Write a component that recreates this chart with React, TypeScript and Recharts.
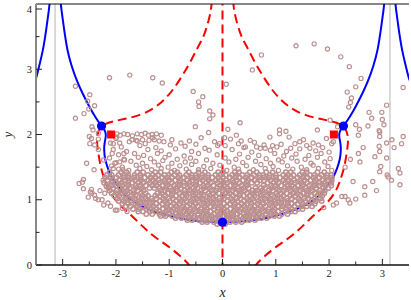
import { ComposedChart, Scatter, Line, XAxis, YAxis, ReferenceLine } from "recharts";

type P = [number, number];

const xTicks = [-3, -2.5, -2, -1.5, -1, -0.5, 0, 0.5, 1, 1.5, 2, 2.5, 3];
const yTicks = [0, 0.5, 1, 1.5, 2, 2.5, 3, 3.5, 4];
const guideX = [-3.1416, 3.1416];

// solid blue curve, inner branch through the three dots
const blueInner: P[] = [
  [-3.04, 4.05], [-3.02, 3.9], [-2.97, 3.6], [-2.91, 3.3], [-2.83, 3.05], [-2.73, 2.82], [-2.62, 2.62],
  [-2.5, 2.43], [-2.38, 2.26], [-2.27, 2.13], [-2.21, 2.06], [-2.19, 1.98], [-2.21, 1.88], [-2.22, 1.76],
  [-2.2, 1.62], [-2.15, 1.48], [-2.08, 1.35], [-2.0, 1.25], [-1.88, 1.12], [-1.75, 1.02], [-1.58, 0.93],
  [-1.4, 0.86], [-1.2, 0.8], [-0.9, 0.735], [-0.6, 0.69], [-0.3, 0.665], [0, 0.655],
  [0.3, 0.665], [0.6, 0.69], [0.9, 0.735], [1.2, 0.8], [1.4, 0.86], [1.58, 0.93], [1.75, 1.02],
  [1.88, 1.12], [2.0, 1.25], [2.08, 1.35], [2.15, 1.48], [2.2, 1.62], [2.22, 1.76], [2.21, 1.88],
  [2.19, 1.98], [2.21, 2.06], [2.27, 2.13], [2.38, 2.26], [2.5, 2.43], [2.62, 2.62], [2.73, 2.82],
  [2.83, 3.05], [2.91, 3.3], [2.97, 3.6], [3.02, 3.9], [3.04, 4.05],
];
const blueOuterL: P[] = [[-3.56, 2.75], [-3.5, 2.86], [-3.44, 3.05], [-3.37, 3.3], [-3.31, 3.6], [-3.26, 3.9], [-3.24, 4.05]];
const blueOuterR: P[] = [[3.56, 2.75], [3.5, 2.86], [3.44, 3.05], [3.37, 3.3], [3.31, 3.6], [3.26, 3.9], [3.24, 4.05]];

// dashed red curves
const redRight: P[] = [
  [0.2, 4.05], [0.22, 3.9], [0.27, 3.72], [0.35, 3.52], [0.46, 3.34], [0.6, 3.12], [0.75, 2.91], [0.92, 2.7],
  [1.1, 2.53], [1.3, 2.4], [1.55, 2.3], [1.83, 2.24], [2.05, 2.2], [2.2, 2.16], [2.3, 2.09], [2.35, 1.98],
  [2.35, 1.84], [2.32, 1.66], [2.27, 1.46], [2.2, 1.28], [2.12, 1.13], [1.97, 0.96], [1.78, 0.81], [1.56, 0.64],
  [1.36, 0.49], [1.15, 0.36], [0.96, 0.25], [0.8, 0.14], [0.68, 0.05], [0.6, -0.03],
];
const redLeft: P[] = [
  [-0.2, 4.05], [-0.22, 3.9], [-0.27, 3.72], [-0.35, 3.52], [-0.46, 3.34], [-0.6, 3.12], [-0.75, 2.91], [-0.92, 2.7],
  [-1.1, 2.53], [-1.3, 2.4], [-1.55, 2.3], [-1.83, 2.24], [-2.05, 2.2], [-2.2, 2.16], [-2.3, 2.09], [-2.35, 1.98],
  [-2.35, 1.84], [-2.32, 1.66], [-2.27, 1.46], [-2.2, 1.28], [-2.12, 1.13], [-1.97, 0.96], [-1.78, 0.81], [-1.56, 0.64],
  [-1.36, 0.49], [-1.15, 0.36], [-0.96, 0.25], [-0.8, 0.14], [-0.68, 0.05], [-0.6, -0.03],
];
const redMid: P[] = [[0, -0.1], [0, 4.1]];

const blueDots: P[] = [[-2.27, 2.13], [2.27, 2.13], [0, 0.655]];
const redSquares: P[] = [[-2.09, 2.0], [2.09, 2.0]];

// sample cloud: scattered points outside the dense core
const outerPts: P[] = [
  [-2.12, 2.87], [-1.74, 2.91], [-2.76, 2.74], [-2.49, 2.61], [-2.53, 2.51], [-2.4, 2.44], [-2.6, 2.32],
  [-2.76, 2.25], [-2.51, 2.39], [-2.45, 2.12], [-2.43, 2.07], [-2.33, 2.02], [-2.46, 1.94], [-2.49, 1.86],
  [-2.5, 1.97], [-2.33, 1.93], [-2.05, 1.86], [-1.99, 1.96], [-1.93, 1.87], [-2.07, 1.71], [-1.85, 1.71],
  [-2.02, 1.56], [-1.93, 1.58], [-2.05, 1.48], [-1.87, 1.46], [-1.84, 1.61], [-2.4, 1.84], [-2.33, 1.77],
  [-2.55, 1.56], [-2.41, 1.46], [-2.61, 1.31], [-2.69, 1.25], [-2.61, 1.17], [-2.46, 1.16], [-2.4, 1.07],
  [-2.33, 1.0], [-2.21, 1.1], [-2.15, 0.95], [-2.63, 1.27], [-2.45, 1.1], [-2.38, 1.02], [-2.26, 1.0],
  [-2.23, 0.92], [-2.24, 1.3], [-2.18, 1.2], [-2.23, 1.61], [-2.48, 1.12], [-2.01, 0.84], [-1.98, 0.84],
  [-1.88, 0.87], [-1.79, 0.82], [-2.1, 0.9], [-2.3, 1.14], [-2.52, 1.04],
  [-1.31, 2.87], [-1.13, 2.79], [-0.55, 2.66], [-0.37, 2.58], [-0.45, 2.5], [-0.44, 2.43], [-0.24, 2.36],
  [-0.18, 2.3], [-0.24, 2.24], [-0.51, 2.12], [-0.26, 2.03], [0.07, 2.77], [0.56, 2.99], [0.73, 3.22],
  [0.1, 2.08], [0.33, 2.18], [0.26, 1.99], [0.35, 1.9], [0.43, 1.81], [0.89, 1.96], [1.07, 2.01],
  [0.71, 1.79], [0.94, 1.83], [-0.09, 1.83], [-0.06, 1.86], [0.04, 1.95], [1.07, 2.07], [1.19, 2.05],
  [0.64, 1.81], [0.8, 1.79], [1.78, 2.07], [1.8, 1.84], [1.64, 1.79], [1.36, 1.86],
  [1.38, 3.36], [1.72, 3.39], [1.97, 3.31], [2.22, 3.19], [2.38, 3.04], [2.6, 2.86], [2.5, 2.73],
  [2.34, 2.65], [2.42, 2.56], [2.4, 2.49], [2.37, 2.42], [3.08, 2.45], [2.75, 2.34], [2.99, 2.34],
  [2.8, 2.25], [3.0, 2.23], [3.03, 2.15], [2.5, 2.15], [2.73, 2.13], [2.57, 2.08], [2.55, 1.99],
  [2.94, 2.06], [2.95, 1.97], [3.08, 1.87], [3.18, 1.92], [3.22, 1.8], [3.39, 1.97], [3.39, 2.72],
  [2.94, 1.82], [2.64, 1.8], [2.16, 2.12], [2.02, 2.22], [2.08, 1.89], [2.95, 2.04], [3.36, 1.86],
  [2.95, 1.74], [2.55, 1.71], [2.58, 1.58], [2.86, 1.66], [3.08, 1.64], [2.97, 1.51], [2.95, 1.43],
  [3.3, 1.48], [3.33, 1.41], [3.11, 1.35], [3.17, 1.3], [3.33, 1.23], [2.82, 1.28], [2.67, 1.2],
  [2.89, 1.14], [2.45, 1.28], [2.3, 1.05], [2.5, 1.01], [2.36, 1.0], [2.24, 1.05], [2.14, 0.95],
  [2.08, 0.92], [3.09, 1.38], [2.67, 1.07], [2.39, 0.95], [2.3, 1.5], [2.4, 1.62], [1.9, 0.88],
];

// moderately filled band above the core
const midPts: P[] = [
  [-2.07, 2.0], [-1.98, 2.01], [-1.92, 1.99], [-1.85, 2.01], [-1.78, 2.0], [-1.69, 1.98], [-1.6, 2.01],
  [-1.52, 2.0], [-1.45, 2.02], [-1.39, 1.99], [-1.32, 2.0], [-1.24, 2.01], [-1.15, 1.99],
  [-1.7, 1.92], [-1.6, 1.9], [-1.5, 1.92], [-1.38, 1.91], [-1.28, 1.92], [-1.19, 1.9],
  [-2.0, 1.94], [-1.62, 1.91], [-1.31, 1.95], [-0.95, 1.92], [-0.62, 1.9], [-0.4, 1.95], [0.15, 1.93],
  [0.52, 1.91], [1.25, 1.96], [1.52, 1.92], [1.95, 1.94],
  [-2.1, 1.87], [-1.75, 1.89], [-1.45, 1.86], [-1.1, 1.89], [-0.78, 1.87], [-0.5, 1.85], [-0.15, 1.89],
  [0.3, 1.86], [0.6, 1.88], [1.1, 1.85], [1.45, 1.89], [1.7, 1.87], [2.05, 1.86],
  [-1.9, 1.81], [-1.55, 1.83], [-1.25, 1.8], [-0.98, 1.84], [-0.7, 1.82], [-0.33, 1.79], [0.05, 1.83],
  [0.4, 1.8], [0.78, 1.84], [1.02, 1.81], [1.28, 1.79], [1.58, 1.83], [1.88, 1.8],
  [-2.05, 1.77], [-1.8, 1.74], [-1.4, 1.77], [-1.15, 1.75], [-0.88, 1.78], [-0.58, 1.74], [-0.25, 1.76],
  [0.18, 1.77], [0.55, 1.73], [0.9, 1.76], [1.2, 1.74], [1.45, 1.78], [1.75, 1.75], [2.0, 1.73],
  [-1.95, 1.69], [-1.65, 1.71], [-1.48, 1.68], [-1.22, 1.71], [-1.0, 1.69], [-0.72, 1.67], [-0.45, 1.71],
  [-0.1, 1.69], [0.32, 1.7], [0.68, 1.68], [0.98, 1.71], [1.15, 1.67], [1.38, 1.7], [1.62, 1.68], [1.85, 1.71],
  [-2.12, 1.64], [-1.85, 1.62], [-1.58, 1.65], [-1.35, 1.63], [-1.08, 1.65], [-0.85, 1.62], [-0.6, 1.64],
  [-0.3, 1.61], [0.05, 1.64], [0.25, 1.62], [0.48, 1.65], [0.82, 1.63], [1.05, 1.61], [1.3, 1.64],
  [1.55, 1.62], [1.78, 1.65], [2.02, 1.63],
  [-2.0, 1.57], [-1.72, 1.59], [-1.5, 1.56], [-1.28, 1.58], [-1.12, 1.6], [-0.95, 1.56], [-0.7, 1.58],
  [-0.5, 1.59], [-0.18, 1.56], [0.12, 1.58], [0.38, 1.57], [0.62, 1.59], [0.9, 1.56], [1.12, 1.58],
  [1.4, 1.59], [1.66, 1.56], [1.92, 1.58],
  [-2.08, 1.52], [-1.88, 1.5], [-1.62, 1.53], [-1.42, 1.51], [-1.2, 1.53], [-1.02, 1.5], [-0.8, 1.52],
  [-0.58, 1.54], [-0.35, 1.51], [-0.05, 1.53], [0.22, 1.5], [0.45, 1.52], [0.72, 1.54], [0.95, 1.51],
  [1.22, 1.52], [1.48, 1.5], [1.7, 1.53], [1.98, 1.51],
  [-1.95, 1.47], [-1.76, 1.45], [-1.55, 1.48], [-1.33, 1.46], [-1.15, 1.48], [-0.9, 1.45], [-0.68, 1.47],
  [-0.45, 1.46], [-0.22, 1.48], [0.08, 1.45], [0.3, 1.47], [0.58, 1.46], [0.8, 1.48], [1.05, 1.45],
  [1.32, 1.47], [1.58, 1.46], [1.8, 1.48], [2.05, 1.45],
];

// dense core, row by row: [y, x values]
const coreRows: [number, number[]][] = [
  [1.42, [-2.12, -1.9, -1.8, -1.6, -1.49, -1.26, -1.16, -0.96, -0.85, -0.63, -0.45, -0.33, -0.08, 0.01, 0.23, 0.31, 0.51, 0.64, 0.82, 0.94, 1.19, 1.28, 1.5, 1.58, 1.78, 1.91]],
  [1.38, [-2.17, -2.08, -1.95, -1.85, -1.77, -1.65, -1.54, -1.4, -1.31, -1.21, -1.09, -1.01, -0.9, -0.81, -0.68, -0.58, -0.5, -0.38, -0.27, -0.13, -0.04, 0.06, 0.18, 0.26, 0.37, 0.46, 0.59, 0.69, 0.77, 0.89, 1.0, 1.14, 1.23, 1.33, 1.45, 1.53, 1.64, 1.73, 1.86, 1.96, 2.04]],
  [1.34, [-2.2, -2.1, -1.99, -1.85, -1.76, -1.66, -1.54, -1.46, -1.35, -1.26, -1.13, -1.03, -0.95, -0.83, -0.72, -0.58, -0.49, -0.39, -0.27, -0.19, -0.08, 0.01, 0.14, 0.24, 0.32, 0.44, 0.55, 0.69, 0.78, 0.88, 1.0, 1.08, 1.19, 1.28, 1.41, 1.51, 1.59, 1.71, 1.82, 1.96, 2.05]],
  [1.3, [-2.16, -2.07, -1.94, -1.84, -1.76, -1.64, -1.53, -1.39, -1.3, -1.2, -1.08, -1.0, -0.89, -0.8, -0.67, -0.57, -0.49, -0.37, -0.26, -0.12, -0.03, 0.07, 0.19, 0.27, 0.38, 0.47, 0.6, 0.7, 0.78, 0.9, 1.01, 1.15, 1.24, 1.34, 1.46, 1.54, 1.65, 1.74, 1.87, 1.97, 2.05]],
  [1.26, [-2.22, -2.08, -1.99, -1.89, -1.77, -1.69, -1.58, -1.49, -1.36, -1.26, -1.18, -1.06, -0.95, -0.81, -0.72, -0.62, -0.5, -0.42, -0.31, -0.22, -0.09, 0.01, 0.09, 0.21, 0.32, 0.46, 0.55, 0.65, 0.85, 0.96, 1.05, 1.18, 1.28, 1.36, 1.48, 1.59, 1.73, 1.82, 1.92, 2.04]],
  [1.22, [-2.18, -2.08, -2.0, -1.88, -1.77, -1.63, -1.54, -1.44, -1.32, -1.24, -1.13, -1.04, -0.91, -0.81, -0.73, -0.61, -0.5, -0.36, -0.27, -0.17, -0.05, 0.03, 0.14, 0.23, 0.36, 0.46, 0.77, 0.91, 1.0, 1.1, 1.22, 1.3, 1.41, 1.5, 1.63, 1.73, 1.81, 1.93, 2.04]],
  [1.18, [-2.14, -2.05, -1.92, -1.82, -1.74, -1.62, -1.51, -1.37, -1.28, -1.18, -1.06, -0.98, -0.87, -0.78, -0.65, -0.55, -0.47, -0.35, -0.24, -0.1, -0.01, 0.09, 0.21, 0.29, 0.4, 0.49, 0.62, 0.72, 0.8, 0.92, 1.03, 1.17, 1.26, 1.36, 1.48, 1.56, 1.67, 1.76, 1.89, 1.99]],
  [1.14, [-2.12, -1.98, -1.89, -1.79, -1.67, -1.59, -1.48, -1.16, -1.08, -0.96, -0.85, -0.71, -0.62, -0.52, -0.4, -0.32, -0.21, -0.12, 0.01, 0.11, 0.19, 0.31, 0.42, 0.56, 0.65, 0.75, 0.87, 0.95, 1.06, 1.15, 1.28, 1.38, 1.46, 1.58, 1.69, 1.83, 1.92]],
  [1.1, [-2.08, -1.98, -1.9, -1.78, -1.67, -1.53, -1.44, -1.22, -1.14, -1.03, -0.94, -0.81, -0.71, -0.63, -0.51, -0.4, -0.26, -0.17, -0.07, 0.05, 0.13, 0.24, 0.33, 0.46, 0.56, 0.64, 0.76, 0.87, 1.01, 1.1, 1.2, 1.32, 1.4, 1.51, 1.6, 1.73, 1.83, 1.91]],
  [1.06, [-2.03, -1.94, -1.81, -1.71, -1.63, -1.51, -1.4, -1.26, -1.17, -1.07, -0.95, -0.87, -0.76, -0.67, -0.54, -0.44, -0.36, -0.24, -0.13, 0.01, 0.1, 0.2, 0.32, 0.4, 0.51, 0.6, 0.73, 0.83, 0.91, 1.03, 1.14, 1.28, 1.37, 1.47, 1.59, 1.67, 1.78, 1.87]],
  [1.02, [-1.97, -1.83, -1.74, -1.64, -1.52, -1.44, -1.33, -1.24, -1.11, -1.01, -0.93, -0.81, -0.7, -0.56, -0.47, -0.37, -0.25, -0.17, -0.06, 0.03, 0.16, 0.26, 0.34, 0.46, 0.57, 0.71, 0.8, 0.9, 1.02, 1.1, 1.21, 1.3, 1.43, 1.53, 1.61, 1.73, 1.84]],
  [0.98, [-1.95, -1.86, -1.73, -1.63, -1.55, -1.43, -1.32, -1.18, -1.09, -0.99, -0.87, -0.79, -0.68, -0.59, -0.46, -0.36, -0.28, -0.16, -0.05, 0.09, 0.18, 0.28, 0.4, 0.48, 0.59, 0.68, 0.81, 0.91, 0.99, 1.11, 1.22, 1.36, 1.45, 1.55, 1.67, 1.75, 1.86]],
  [0.94, [-1.88, -1.77, -1.63, -1.54, -1.44, -1.32, -1.24, -1.13, -1.04, -0.91, -0.81, -0.73, -0.61, -0.5, -0.36, -0.27, -0.17, -0.05, 0.03, 0.14, 0.23, 0.36, 0.46, 0.54, 0.66, 0.77, 0.91, 1.0, 1.1, 1.22, 1.3, 1.41, 1.5, 1.63, 1.73]],
  [0.9, [-1.82, -1.73, -1.6, -1.5, -1.42, -1.3, -1.19, -1.05, -0.96, -0.86, -0.74, -0.66, -0.55, -0.46, -0.33, -0.23, -0.15, -0.03, 0.08, 0.22, 0.31, 0.41, 0.53, 0.61, 0.72, 0.81, 0.94, 1.04, 1.12, 1.24, 1.35, 1.49, 1.58, 1.68]],
  [0.86, [-1.68, -1.57, -1.43, -1.34, -1.24, -1.12, -1.04, -0.93, -0.84, -0.71, -0.61, -0.53, -0.41, -0.3, -0.16, -0.07, 0.03, 0.15, 0.23, 0.34, 0.43, 0.56, 0.66, 0.74, 0.86, 0.97, 1.11, 1.2, 1.3, 1.42, 1.5]],
  [0.82, [-1.58, -1.49, -1.36, -1.26, -1.18, -1.06, -0.95, -0.81, -0.72, -0.62, -0.5, -0.42, -0.31, -0.22, -0.09, 0.01, 0.09, 0.21, 0.32, 0.46, 0.55, 0.65, 0.77, 0.85, 0.96, 1.05, 1.18, 1.28, 1.36]],
  [0.78, [-1.43, -1.32, -1.18, -1.09, -0.99, -0.87, -0.79, -0.68, -0.59, -0.46, -0.36, -0.28, -0.16, -0.05, 0.09, 0.18, 0.28, 0.4, 0.48, 0.59, 0.68, 0.81, 0.91, 0.99, 1.11, 1.22]],
  [0.75, [-1.16, -1.07, -0.94, -0.84, -0.76, -0.64, -0.53, -0.39, -0.3, -0.2, -0.08, 0.0, 0.11, 0.2, 0.33, 0.43, 0.51, 0.63, 0.74, 0.88, 0.97, 1.07]],
  [0.72, [-0.88, -0.77, -0.63, -0.54, -0.44, -0.32, -0.24, -0.13, -0.04, 0.09, 0.19, 0.27, 0.39, 0.5, 0.64, 0.73, 0.83]],
  [0.69, [-0.66, -0.57, -0.44, -0.34, -0.26, -0.14, -0.03, 0.11, 0.2, 0.3, 0.42, 0.5, 0.61]],
  [0.66, [-0.38, -0.29, -0.16, -0.06, 0.02, 0.14, 0.25, 0.36]],
  [0.63, [-0.1, 0.05]],
];

const toXY = (pts: P[]) => pts.map(([x, y]) => ({ x, y }));

const core = coreRows.flatMap(([y, xs]) => xs.map((x) => ({ x, y })));
const loose = [...toXY(midPts), ...toXY(outerPts)];

const SERIF = "'Liberation Serif', 'Times New Roman', serif";
const INK = "#222";
const ROSY = "#bc8f8f";

const Ring = (p: any) => <circle cx={p.cx} cy={p.cy} r={2.1} fill="none" stroke={ROSY} strokeWidth={1.15} />;
const CoreRing = (p: any) => <circle cx={p.cx} cy={p.cy} r={2.25} fill="none" stroke={ROSY} strokeWidth={1.5} />;
const Dot = (p: any) => <circle cx={p.cx} cy={p.cy} r={4.6} fill="#0000ff" />;
const Sq = (p: any) => <rect x={p.cx - 4} y={p.cy - 4} width={8} height={8} fill="#ff0000" />;

const tickLen = (v: number) => (Number.isInteger(v) ? 6 : 3.5);

const BottomTick = ({ x, y, payload }: any) => (
  <g>
    <line x1={x} x2={x} y1={y} y2={y - tickLen(payload.value)} stroke={INK} />
    {Number.isInteger(payload.value) && (
      <text x={x} y={y + 12} textAnchor="middle" fontSize={10.5} fontFamily={SERIF} fill={INK}>
        {payload.value}
      </text>
    )}
  </g>
);
const TopTick = ({ x, y, payload }: any) => (
  <line x1={x} x2={x} y1={y} y2={y + tickLen(payload.value)} stroke={INK} />
);
const LeftTick = ({ x, y, payload }: any) => (
  <g>
    <line x1={x} x2={x + tickLen(payload.value)} y1={y} y2={y} stroke={INK} />
    {Number.isInteger(payload.value) && (
      <text x={x - 4} y={y + 3.5} textAnchor="end" fontSize={10.5} fontFamily={SERIF} fill={INK}>
        {payload.value}
      </text>
    )}
  </g>
);
const RightTick = ({ x, y, payload }: any) => (
  <line x1={x} x2={x - tickLen(payload.value)} y1={y} y2={y} stroke={INK} />
);

export default function App() {
  return (
    <div style={{ position: "absolute", left: 0, top: 0, width: 411, height: 300, background: "#fff" }}>
      <ComposedChart width={411} height={300} margin={{ top: 3, right: 2, bottom: 0, left: 0 }}>
        <XAxis
          dataKey="x"
          type="number"
          domain={[-3.5, 3.5]}
          ticks={xTicks}
          allowDataOverflow
          height={35}
          tickSize={0}
          tickMargin={0}
          tick={<BottomTick />}
          axisLine={{ stroke: "#111", strokeWidth: 1.5 }}
          label={{
            content: () => (
              <text x={222.5} y={297} textAnchor="middle" fontSize={14} fontStyle="italic" fontFamily={SERIF} fill={INK}>
                x
              </text>
            ),
          }}
        />
        <XAxis
          xAxisId="top"
          orientation="top"
          type="number"
          domain={[-3.5, 3.5]}
          ticks={xTicks}
          height={1}
          tickSize={0}
          tickMargin={0}
          tick={<TopTick />}
          axisLine={{ stroke: "#111", strokeWidth: 1.2 }}
        />
        <YAxis
          dataKey="y"
          type="number"
          domain={[0, 4]}
          ticks={yTicks}
          allowDataOverflow
          width={36}
          tickSize={0}
          tickMargin={0}
          tick={<LeftTick />}
          axisLine={{ stroke: "#888", strokeWidth: 2 }}
          label={{
            content: () => (
              <text x={12} y={134.5} transform="rotate(-90, 12, 134.5)" textAnchor="middle" fontSize={13} fontStyle="italic" fontFamily={SERIF} fill={INK}>
                y
              </text>
            ),
          }}
        />
        <YAxis
          yAxisId="right"
          orientation="right"
          type="number"
          domain={[0, 4]}
          ticks={yTicks}
          width={0}
          tickSize={0}
          tickMargin={0}
          tick={<RightTick />}
          axisLine={{ stroke: "#111", strokeWidth: 1.5 }}
        />

        {guideX.map((gx) => (
          <ReferenceLine key={gx} x={gx} stroke="#d6d6d6" strokeWidth={1.8} />
        ))}

        <Scatter data={core} shape={<CoreRing />} isAnimationActive={false} />
        <Scatter data={loose} shape={<Ring />} isAnimationActive={false} />

        <Line data={toXY(redLeft)} dataKey="y" type="natural" stroke="#ff0000" strokeWidth={2} strokeDasharray="9 5" dot={false} isAnimationActive={false} />
        <Line data={toXY(redRight)} dataKey="y" type="natural" stroke="#ff0000" strokeWidth={2} strokeDasharray="9 5" dot={false} isAnimationActive={false} />
        <Line data={toXY(redMid)} dataKey="y" type="linear" stroke="#ff0000" strokeWidth={2} strokeDasharray="9 5" dot={false} isAnimationActive={false} />

        <Line data={toXY(blueInner)} dataKey="y" type="natural" stroke="#0000ff" strokeWidth={2} dot={false} isAnimationActive={false} />
        <Line data={toXY(blueOuterL)} dataKey="y" type="natural" stroke="#0000ff" strokeWidth={2} dot={false} isAnimationActive={false} />
        <Line data={toXY(blueOuterR)} dataKey="y" type="natural" stroke="#0000ff" strokeWidth={2} dot={false} isAnimationActive={false} />

        <Scatter data={toXY(redSquares)} shape={<Sq />} isAnimationActive={false} />
        <Scatter data={toXY(blueDots)} shape={<Dot />} isAnimationActive={false} />
      </ComposedChart>
    </div>
  );
}
